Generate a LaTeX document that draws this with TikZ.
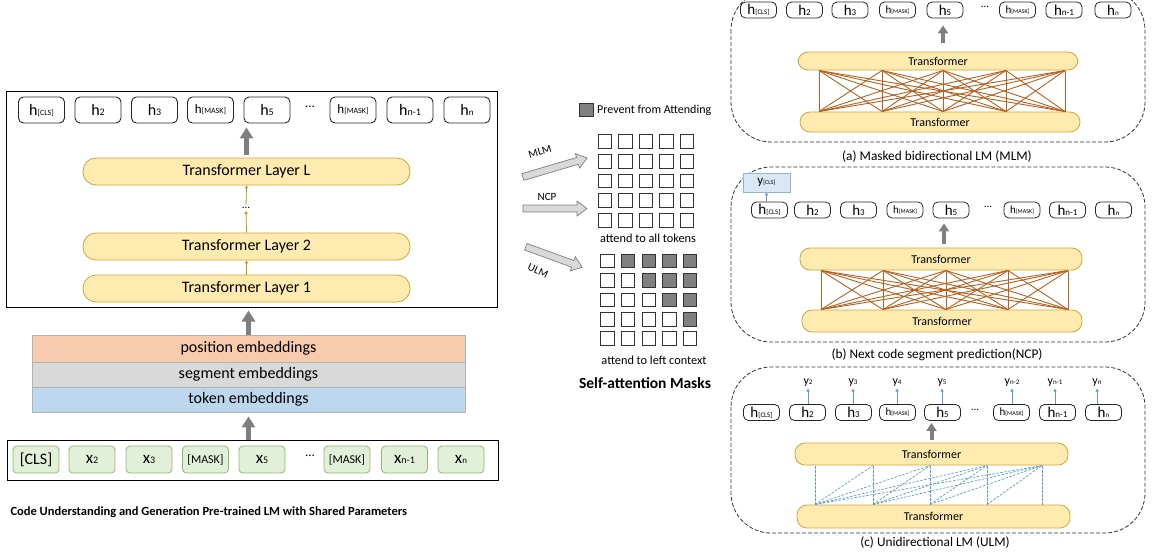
\documentclass[tikz,border=0pt]{standalone}
\usepackage{fontspec}
\setmainfont{Carlito}
\usetikzlibrary{arrows.meta,calc}

\definecolor{tfill}{HTML}{FFEBB0}
\definecolor{tdraw}{HTML}{CFA53A}
\definecolor{gar}{HTML}{7F7F7F}
\definecolor{oar}{HTML}{C8960C}
\definecolor{brn}{HTML}{B5611F}
\definecolor{blu}{HTML}{5B9BD5}
\definecolor{posc}{HTML}{F8CBAD}
\definecolor{segc}{HTML}{D9D9D9}
\definecolor{tokc}{HTML}{BDD7EE}
\definecolor{xfill}{HTML}{E2F0D9}
\definecolor{xdraw}{HTML}{8DB96E}
\definecolor{yfill}{HTML}{DAE8F6}
\definecolor{ydraw}{HTML}{8FB4DE}

\newcommand\tk[4]{{\fontsize{#2}{#2}\selectfont #1}{\fontsize{#3}{#3}\selectfont #4}}
\newcommand\blockarrow[4]{%
  \draw[fill=segc, draw=gar, line width=0.7pt, shift={(#1,#2)}, rotate=#3]
    (-#4/2,-3.5) -- (#4/2-10,-3.5) -- (#4/2-10,-7.5) -- (#4/2,0) -- (#4/2-10,7.5) -- (#4/2-10,3.5) -- (-#4/2,3.5) -- cycle;}

\begin{document}
\begin{tikzpicture}[x=1pt,y=-1pt,
  hbox/.style={draw=black!85, line width=0.9pt, rounded corners=5pt, minimum width=46pt, minimum height=26pt, inner sep=0pt},
  hsm/.style={draw=black!85, line width=0.8pt, rounded corners=5pt, minimum width=36pt, minimum height=16pt, inner sep=0pt},
  xbox/.style={draw=xdraw, fill=xfill, line width=0.8pt, rounded corners=4pt, minimum width=46pt, minimum height=27pt, inner sep=0pt},
  tlay/.style={draw=tdraw, fill=tfill, line width=0.8pt, rounded corners=13pt, minimum width=327pt, minimum height=27pt, inner sep=0pt, font=\fontsize{16}{16}\selectfont},
  tsm/.style={draw=tdraw, fill=tfill, line width=0.8pt, rounded corners=10pt, minimum width=280pt, minimum height=21pt, inner sep=0pt, font=\fontsize{12}{12}\selectfont},
  emb/.style={draw=gray!60, line width=0.8pt, minimum width=433pt, inner sep=0pt, font=\fontsize{16}{16}\selectfont},
  garrow/.style={draw=gar, line width=5pt, -{Triangle[length=11pt,width=13pt]}},
  gsm/.style={draw=gar, line width=4pt, -{Triangle[length=8pt,width=10pt]}},
  oarrow/.style={draw=oar, line width=0.8pt, -{Triangle[length=3pt,width=3pt]}},
  barrow/.style={draw=blu, line width=0.8pt, -{Triangle[length=3pt,width=3pt]}},
  cell/.style={draw=black!80, line width=0.8pt, minimum size=13.5pt, inner sep=0pt},
  panel/.style={draw=black!80, line width=0.8pt, dash pattern=on 4pt off 2pt, rounded corners=40pt},
  brl/.style={draw=brn, line width=0.9pt},
  bdl/.style={draw=blu, line width=0.7pt, dash pattern=on 2.5pt off 1.5pt},
  lbl/.style={inner sep=1pt}
]
\useasboundingbox (0,0) rectangle (1156,558);

% ---------------- left part ----------------
\node[draw, line width=1pt, minimum width=491pt, minimum height=216pt] (mainbox) at (251.5,199) {};
\node[hbox] (lh1) at (41.5,110) {\tk{h}{16}{8}{[CLS]}};
\node[hbox] (lh2) at (98,110) {\tk{h}{16}{10}{2}};
\node[hbox] (lh3) at (154.5,110) {\tk{h}{16}{10}{3}};
\node[hbox] (lh4) at (210.5,110) {\tk{h}{13}{8}{[MASK]}};
\node[hbox] (lh5) at (267,110) {\tk{h}{16}{10}{5}};
\node[lbl] (ld) at (310,107) {\fontsize{13}{13}\selectfont ...};
\node[hbox] (lh6) at (353,110) {\tk{h}{13}{8}{[MASK]}};
\node[hbox] (lh7) at (410,110) {\tk{h}{16}{10}{n-1}};
\node[hbox] (lh8) at (467,110) {\tk{h}{16}{9}{n}};

\node[tlay] (LL) at (246.5,171.5) {Transformer Layer L};
\node[tlay] (L2) at (246.5,246.5) {Transformer Layer 2};
\node[tlay] (L1) at (246.5,288.5) {Transformer Layer 1};
\node[lbl] (vd) at (246,208) {\fontsize{11}{11}\selectfont ...};
\draw[oarrow] (L1.north) -- (L2.south);
\draw[oarrow, shorten >=1pt] (L2.north) -- (vd.south);
\draw[oarrow, shorten <=1pt] (vd.north) -- (LL.south);
\draw[garrow, shorten <=3pt, shorten >=4pt] (LL.north) -- (LL.north |- lh5.south);

\node[emb, fill=posc, minimum height=27pt] (pos) at (248.5,348.5) {position embeddings};
\node[emb, fill=segc, minimum height=25pt] (seg) at (248.5,374.5) {segment embeddings};
\node[emb, fill=tokc, minimum height=25pt] (tok) at (248.5,399.5) {token embeddings};
\draw[garrow, shorten >=3pt] (pos.north) -- (pos.north |- mainbox.south);

\node[draw, line width=1pt, minimum width=491pt, minimum height=40pt] (inbox) at (252.5,460) {};
\draw[garrow, shorten >=4pt] (tok.south |- inbox.north) -- (tok.south);
\node[xbox] (x1) at (36,459.5) {\fontsize{16}{16}\selectfont [CLS]};
\node[xbox] (x2) at (92,459.5) {\tk{x}{17}{10}{2}};
\node[xbox] (x3) at (149,459.5) {\tk{x}{17}{10}{3}};
\node[xbox] (x4) at (205.5,459.5) {\fontsize{12}{12}\selectfont [MASK]};
\node[xbox] (x5) at (262,459.5) {\tk{x}{17}{10}{5}};
\node[lbl] (xd) at (310,456) {\fontsize{13}{13}\selectfont ...};
\node[xbox] (x6) at (347,459.5) {\fontsize{12}{12}\selectfont [MASK]};
\node[xbox] (x7) at (404.5,459.5) {\tk{x}{17}{10}{n-1}};
\node[xbox] (x8) at (461,459.5) {\tk{x}{17}{9}{n}};

\node[anchor=west, font=\bfseries\fontsize{12.5}{13}\selectfont] (cap) at (7,512) {Code Understanding and Generation Pre-trained LM with Shared Parameters};

% ---------------- middle: masks ----------------
\node[cell, fill=black!50] (leg) at (586.5,110) {};
\node[anchor=west, font=\fontsize{12}{12}\selectfont] (legt) at (leg.east) {Prevent from Attending};

\foreach \r in {0,...,4} \foreach \c in {0,...,4}
  \node[cell] (m\r\c) at (605+20.5*\c, 141.5+19.7*\r) {};
\node[font=\fontsize{12.3}{13}\selectfont] (mlt) at (648,238) {attend to all tokens};

\foreach \r in {0,...,4} \foreach \c in {0,...,4} {
  \ifnum\c>\r \def\fc{black!50}\else\def\fc{white}\fi
  \node[cell, fill=\fc] (u\r\c) at (607.5+20.6*\c, 261+19.4*\r) {};
}
\node[font=\fontsize{12.3}{13}\selectfont] (ult) at (654,360) {attend to left context};
\node[font=\bfseries\fontsize{15.5}{16}\selectfont] (sam) at (645,383) {Self-attention Masks};

\blockarrow{555}{167.5}{16.5}{67}
\node[font=\fontsize{11}{11}\selectfont, rotate=16, inner sep=0.5pt] (tmlm) at (540,151.5) {MLM};
\blockarrow{555}{208.5}{0}{64}
\node[font=\fontsize{11}{11}\selectfont, inner sep=0.5pt] (tncp) at (547,196.5) {NCP};
\blockarrow{554}{257}{-20}{60}
\node[font=\fontsize{11}{11}\selectfont, rotate=-25, inner sep=0.5pt] (tulm) at (538,271) {ULM};

% ---------------- panel (a) ----------------
\draw[panel] (731,-10) rectangle (1145,142);
\node[hsm] (ah1) at (758.5,10) {\tk{h}{15}{7}{[CLS]}};
\node[hsm] (ah2) at (804.5,10) {\tk{h}{15}{9}{2}};
\node[hsm] (ah3) at (850,10) {\tk{h}{15}{9}{3}};
\node[hsm] (ah4) at (897.5,10) {\tk{h}{11}{6}{[MASK]}};
\node[hsm] (ah5) at (945,10) {\tk{h}{15}{9}{5}};
\node[lbl] (ahd) at (985,7) {\fontsize{11}{11}\selectfont ...};
\node[hsm] (ah6) at (1017.5,10) {\tk{h}{11}{6}{[MASK]}};
\node[hsm] (ah7) at (1064,10) {\tk{h}{15}{9}{n-1}};
\node[hsm] (ah8) at (1113,10) {\tk{h}{15}{7}{n}};
\node[tsm, minimum height=18pt] (aT) at (938,61) {Transformer};
\node[tsm, minimum height=20pt] (aB) at (940,122) {Transformer};
\foreach \i/\x in {1/819,2/882,3/943,4/1006,5/1065} {
  \coordinate (at\i) at (\x,70.5);
  \coordinate (ab\i) at (\x,111.5);
}
\foreach \i in {1,...,5} \foreach \j in {1,...,5} \draw[brl] (at\i) -- (ab\j);
\draw[gsm, shorten <=9pt, shorten >=7pt] ([xshift=5pt]aT.north) -- ([xshift=5pt]aT.north |- ah5.south);
\node[font=\fontsize{13.3}{14}\selectfont] (capa) at (937,157) {(a) Masked bidirectional LM (MLM)};

% ---------------- panel (b) ----------------
\draw[panel] (731,167) rectangle (1145,342);
\node[hsm] (bh1) at (769.5,210) {\tk{h}{15}{7}{[CLS]}};
\node[hsm] (bh2) at (812.5,210) {\tk{h}{15}{9}{2}};
\node[hsm] (bh3) at (858.5,210) {\tk{h}{15}{9}{3}};
\node[hsm] (bh4) at (905,210) {\tk{h}{11}{6}{[MASK]}};
\node[hsm] (bh5) at (951,210) {\tk{h}{15}{9}{5}};
\node[lbl] (bhd) at (988,207) {\fontsize{11}{11}\selectfont ...};
\node[hsm] (bh6) at (1022,210) {\tk{h}{11}{6}{[MASK]}};
\node[hsm] (bh7) at (1067.5,210) {\tk{h}{15}{9}{n-1}};
\node[hsm] (bh8) at (1113.5,210) {\tk{h}{15}{7}{n}};
\node[draw=ydraw, fill=yfill, line width=0.8pt, minimum width=47pt, minimum height=19pt, inner sep=0pt] (ycls) at (766.5,182.5) {\tk{y}{13}{6}{[CLS]}};
\draw[barrow] (bh1.north -| ycls.south) -- (ycls.south);
\node[tsm, minimum height=22pt, minimum width=282pt] (bT) at (941,259) {Transformer};
\node[tsm, minimum height=22pt] (bB) at (942,321) {Transformer};
\foreach \i/\x in {1/821,2/883,3/946,4/1008,5/1068} {
  \coordinate (bt\i) at (\x,270.5);
  \coordinate (bb\i) at (\x,309.5);
}
\foreach \i in {1,...,5} \foreach \j in {1,...,5} \draw[brl] (bt\i) -- (bb\j);
\draw[gsm, shorten <=4pt, shorten >=5pt] ([xshift=3pt]bT.north) -- ([xshift=3pt]bT.north |- bh5.south);
\node[font=\fontsize{13.3}{14}\selectfont] (capb) at (937,355) {(b) Next code segment prediction(NCP)};

% ---------------- panel (c) ----------------
\draw[panel] (731,367) rectangle (1145,533);
\node[hsm] (ch1) at (761.5,412.5) {\tk{h}{15}{7}{[CLS]}};
\node[hsm] (ch2) at (807.5,412.5) {\tk{h}{15}{9}{2}};
\node[hsm] (ch3) at (853.5,412.5) {\tk{h}{15}{9}{3}};
\node[hsm] (ch4) at (897.5,412.5) {\tk{h}{11}{6}{[MASK]}};
\node[hsm] (ch5) at (942.5,412.5) {\tk{h}{15}{9}{5}};
\node[lbl] (chd) at (975,410) {\fontsize{11}{11}\selectfont ...};
\node[hsm] (ch6) at (1011.5,412.5) {\tk{h}{11}{6}{[MASK]}};
\node[hsm] (ch7) at (1057.5,412.5) {\tk{h}{15}{9}{n-1}};
\node[hsm] (ch8) at (1103.5,412.5) {\tk{h}{15}{7}{n}};
\foreach \n/\x/\s in {2/808/2,3/853/3,4/897/4,5/942/5,6/1012/n-2,7/1055/n-1,8/1097/n} {
  \node[lbl] (cy\n) at (\x,383) {\tk{y}{12}{7}{\s}};
  \draw[barrow, shorten >=0.5pt] (cy\n.south |- ch\n.north) -- (cy\n.south);
}
\node[tsm, minimum height=22pt, minimum width=273pt] (cT) at (931.5,454) {Transformer};
\node[tsm, minimum height=23pt, minimum width=273pt] (cB) at (933.5,516.5) {Transformer};
\foreach \i/\x in {1/815,2/873,3/930,4/987,5/1042} {
  \coordinate (ct\i) at (\x,465.5);
  \coordinate (cb\i) at (\x,504.5);
}
\foreach \i in {1,...,5} \foreach \j in {\i,...,5} \draw[bdl] (cb\i) -- (ct\j);
\draw[gsm, shorten <=3pt, shorten >=2pt] (cT.north) -- (cT.north |- ch5.south);
\node[font=\fontsize{13.3}{14}\selectfont] (capc) at (935,543) {(c) Unidirectional LM (ULM)};
\end{tikzpicture}
\end{document}
